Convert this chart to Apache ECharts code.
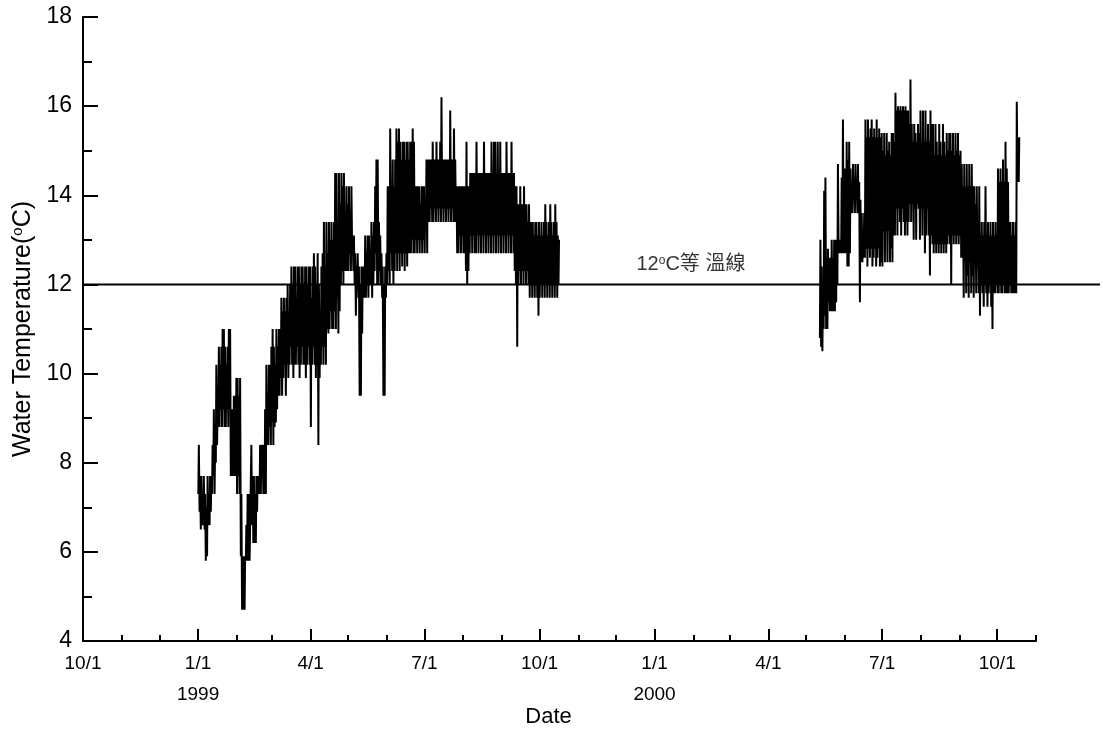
<!DOCTYPE html>
<html>
<head>
<meta charset="utf-8">
<script src="https://cdn.jsdelivr.net/npm/echarts@6/dist/echarts.min.js"></script>
<style>
  html, body { margin: 0; padding: 0; background: #fff; }
  #chart { width: 1103px; height: 736px; }
</style>
</head>
<body>
<div id="chart"></div>
<script>
// Fonts
const SANS = "'Liberation Sans Narrow','Arial Narrow','Liberation Sans',Arial,sans-serif";
const MIXED = "'Liberation Sans Narrow','Arial Narrow','Liberation Sans','Noto Sans CJK TC','Noto Sans CJK SC',sans-serif";

// Axis range and ticks
const axisStart = '1998-10-01';
const axisEnd = '2000-11-01';
const quarterTicks = ['1998-10-01', '1999-01-01', '1999-04-01', '1999-07-01', '1999-10-01',
                      '2000-01-01', '2000-04-01', '2000-07-01', '2000-10-01'];
const quarterLabels = ['10/1', '1/1\n1999', '4/1', '7/1', '10/1', '1/1\n2000', '4/1', '7/1', '10/1'];
const monthTicks = ['1998-10-01', '1998-11-01', '1998-12-01', '1999-01-01', '1999-02-01', '1999-03-01',
                    '1999-04-01', '1999-05-01', '1999-06-01', '1999-07-01', '1999-08-01', '1999-09-01',
                    '1999-10-01', '1999-11-01', '1999-12-01', '2000-01-01', '2000-02-01', '2000-03-01',
                    '2000-04-01', '2000-05-01', '2000-06-01', '2000-07-01', '2000-08-01', '2000-09-01',
                    '2000-10-01', '2000-11-01'];
const tempMin = 4;
const tempMax = 18;
const tempStep = 2;

// 12 °C isotherm
const isotherm = 12;
const isothermLineEnd = '2000-12-22';
const isothermLabelDate = '2000-01-30';

// Daily [max, min] water temperature (°C), first deployment
const deploy1Start = '1999-01-01';
const deploy1Daily = [
  [8.4,7.3],[7.7,6.9],[7.7,6.5],[7.2,6.6],[7.7,6.6],[7.3,6.5],[7.0,5.8],[7.7,5.9],[7.2,6.6],[7.7,6.6],
  [7.7,6.9],[8.4,7.3],[9.2,7.7],[8.4,7.3],[10.2,8.0],[9.2,8.4],[10.6,8.8],[10.2,8.8],[10.6,9.2],[11.0,8.8],
  [11.0,9.2],[10.6,8.8],[10.2,8.8],[10.6,9.2],[11.0,8.8],[11.0,9.2],[9.2,7.7],[9.2,7.7],[9.5,7.7],[9.5,7.7],
  [9.9,7.7],[9.9,7.3],[9.5,7.7],[9.9,7.3],[7.3,5.9],[5.9,4.7],[5.9,4.7],[5.9,4.7],[6.6,5.8],[7.3,5.8],
  [7.3,5.8],[6.6,5.8],[8.4,6.6],[7.7,6.6],[7.7,6.2],[7.3,6.2],[7.7,6.2],[7.7,6.9],[7.7,7.3],[8.4,7.3],
  [8.4,7.3],[8.4,7.7],[8.4,7.3],[9.2,7.3],[10.2,7.3],[9.5,8.4],[10.2,8.4],[10.2,8.8],[10.6,8.4],[11.0,8.9],
  [10.6,8.4],[10.2,8.8],[11.0,8.9],[10.6,9.2],[11.0,9.5],[11.0,9.5],[11.7,9.9],[11.4,9.5],[11.7,9.9],[11.4,10.2],
  [11.7,9.5],[12.0,10.2],[11.4,9.9],[12.0,10.2],[12.4,10.6],[12.0,10.2],[12.4,9.9],[12.4,10.2],[11.7,10.2],[12.4,10.6],
  [12.4,10.2],[12.0,9.9],[12.4,10.2],[12.4,10.6],[12.0,10.2],[12.4,10.2],[12.4,9.9],[12.0,10.2],[12.4,10.6],[12.4,10.2],
  [11.7,8.8],[12.4,10.2],[12.7,10.6],[12.4,10.2],[12.0,9.9],[12.7,10.2],[12.0,8.4],[11.4,9.9],[12.4,10.2],[12.7,10.6],
  [13.4,10.2],[12.4,10.6],[13.4,10.2],[12.7,11.0],[13.4,10.9],[13.0,11.0],[13.4,11.4],[13.0,11.0],[13.4,11.0],[14.5,11.4],
  [14.5,11.0],[13.4,11.7],[14.5,10.9],[13.8,11.4],[14.5,12.0],[14.2,12.3],[14.5,12.0],[13.4,12.3],[14.2,12.3],[13.8,12.3],
  [14.2,12.3],[13.4,12.7],[14.2,12.3],[13.1,12.7],[13.1,12.3],[12.7,12.0],[12.4,11.3],[12.7,12.0],[12.4,11.7],[12.0,9.5],
  [12.4,9.5],[12.4,10.9],[12.4,11.7],[13.1,11.7],[12.7,11.7],[13.1,12.0],[13.1,11.7],[12.7,12.0],[13.4,12.0],[13.1,11.7],
  [13.4,12.0],[14.2,12.3],[14.8,12.7],[14.8,12.0],[13.4,12.0],[13.1,12.3],[12.7,12.0],[12.4,11.7],[12.0,9.5],[12.4,9.5],
  [12.7,11.7],[14.2,12.0],[14.2,12.3],[15.5,12.0],[14.2,12.7],[14.8,12.3],[14.2,12.0],[14.8,12.3],[15.5,12.7],[15.2,12.3],
  [15.5,12.7],[15.2,12.3],[14.8,12.7],[15.2,12.4],[15.2,12.7],[14.8,12.3],[15.2,12.7],[15.2,12.4],[14.8,12.7],[15.2,12.7],
  [15.2,12.7],[15.5,13.0],[15.2,12.7],[14.2,12.7],[14.2,13.0],[14.2,12.7],[14.2,13.0],[13.8,12.7],[14.2,13.0],[14.2,12.7],
  [14.2,13.0],[13.8,12.7],[14.8,13.4],[14.8,12.7],[14.8,13.4],[14.8,13.4],[14.8,13.7],[15.2,13.4],[14.8,13.4],[14.8,13.7],
  [15.2,13.4],[14.8,13.7],[14.8,13.4],[15.2,13.7],[16.2,13.4],[14.8,13.7],[14.8,13.4],[14.8,13.7],[14.8,13.4],[14.8,13.7],
  [14.8,13.4],[15.9,13.7],[14.8,13.4],[14.8,13.7],[15.5,13.4],[14.8,13.4],[14.2,13.4],[14.2,12.7],[14.2,12.7],[14.2,13.1],
  [14.2,12.7],[14.2,13.1],[14.2,12.7],[14.2,12.7],[15.2,12.3],[14.2,12.0],[14.2,12.3],[14.5,12.7],[14.5,13.1],[14.5,12.7],
  [14.5,13.1],[14.5,12.7],[15.2,12.7],[14.5,13.1],[14.5,12.7],[14.5,13.1],[14.5,12.7],[14.5,13.1],[15.2,12.7],[14.5,13.1],
  [14.5,12.7],[14.5,13.1],[14.5,12.7],[14.5,13.1],[15.2,12.7],[14.5,13.1],[15.2,12.7],[15.2,13.1],[14.5,12.7],[15.2,13.1],
  [14.5,12.7],[15.2,13.1],[14.5,12.7],[14.5,13.1],[14.5,12.7],[14.5,13.1],[15.2,12.7],[14.5,13.1],[14.5,12.7],[14.5,13.1],
  [15.2,12.7],[14.5,13.1],[14.5,12.7],[14.2,12.3],[14.2,12.0],[13.8,10.6],[13.8,12.0],[14.2,12.3],[13.8,12.0],[13.8,12.3],
  [14.2,12.0],[13.8,12.3],[13.8,12.0],[13.4,12.3],[13.8,12.0],[13.4,11.7],[13.4,12.0],[13.4,11.7],[13.1,12.0],[13.4,11.7],
  [13.4,12.0],[13.1,11.7],[13.4,11.3],[13.1,11.7],[13.4,12.0],[13.1,11.7],[13.4,12.0],[13.8,11.7],[13.4,12.0],[13.1,11.7],
  [13.4,12.0],[13.8,11.7],[13.4,12.0],[13.1,11.7],[13.4,12.0],[13.8,11.7],[13.4,12.0],[13.1,11.7],[13.0,12.0]
];

// Daily [max, min] water temperature (°C), second deployment
const deploy2Start = '2000-05-12';
const deploy2Daily = [
  [13.0,10.8],[12.4,10.6],[12.0,10.5],[14.1,11.0],[14.4,11.3],[12.6,11.0],[12.8,11.0],[12.6,11.6],[12.6,11.4],[13.0,11.4],
  [12.6,11.4],[13.0,11.4],[13.0,11.4],[13.0,11.6],[14.7,12.0],[13.0,12.7],[13.0,12.7],[14.4,12.7],[15.7,12.7],[14.6,12.7],
  [14.6,12.7],[15.2,12.7],[14.8,12.4],[15.2,12.4],[14.6,12.7],[14.3,13.6],[14.7,13.6],[14.3,13.9],[14.7,13.6],[14.3,13.9],
  [14.7,13.6],[14.3,13.6],[13.9,11.6],[13.6,12.5],[13.0,12.5],[13.6,12.6],[15.7,12.6],[15.3,12.8],[15.7,12.4],[15.3,12.8],
  [15.5,12.6],[15.7,12.8],[15.3,12.4],[15.5,12.6],[15.3,12.8],[15.7,12.4],[15.3,12.6],[15.5,12.8],[15.3,12.4],[15.4,12.5],
  [15.0,12.4],[15.4,13.2],[14.9,12.5],[15.4,13.2],[15.0,12.5],[15.2,13.2],[14.9,12.5],[15.4,12.8],[15.4,12.5],[15.2,13.1],
  [16.3,13.1],[15.9,13.7],[16.0,13.1],[15.9,13.7],[16.0,13.4],[15.9,13.1],[16.0,13.7],[15.9,13.4],[16.0,13.1],[15.9,13.4],
  [15.9,13.1],[15.6,13.4],[16.6,13.8],[15.6,13.4],[15.2,13.8],[15.6,13.0],[15.4,13.7],[15.2,13.0],[15.6,13.8],[15.4,13.7],
  [15.9,13.0],[15.2,13.7],[15.9,13.1],[15.2,13.7],[15.9,12.7],[15.2,13.1],[15.6,13.7],[15.2,13.1],[15.9,12.2],[15.6,13.1],
  [15.6,12.9],[14.9,12.7],[15.6,12.9],[15.2,12.7],[14.9,12.9],[15.6,12.7],[15.2,12.9],[14.9,12.7],[15.6,12.9],[15.2,12.7],
  [14.9,12.9],[15.4,12.7],[15.0,12.9],[15.4,13.1],[15.4,12.9],[15.0,12.0],[15.4,13.1],[14.9,12.9],[15.4,13.1],[15.0,12.9],
  [15.4,13.1],[14.9,12.9],[15.0,13.1],[14.7,12.6],[14.2,12.6],[14.7,11.7],[14.2,12.5],[14.7,11.8],[14.2,12.2],[14.7,11.7],
  [14.2,12.5],[14.7,11.8],[14.2,12.2],[14.2,11.7],[13.8,12.4],[14.2,11.8],[13.4,12.4],[14.2,11.8],[13.1,11.3],[13.4,12.0],
  [13.1,11.8],[13.4,11.5],[14.2,12.0],[13.1,11.8],[13.4,11.5],[13.1,11.8],[13.4,12.0],[13.1,11.5],[13.4,11.0],[13.1,11.8],
  [13.4,11.8],[13.1,12.0],[14.6,11.8],[14.3,11.8],[14.6,12.0],[14.3,11.8],[14.8,11.8],[14.3,12.0],[15.2,11.8],[14.6,11.8],
  [14.3,11.8],[13.4,11.8],[13.4,12.0],[13.1,11.8],[13.4,11.8],[13.1,11.8],[13.4,11.8],[16.1,11.8],[15.3,14.3],[15.3,14.3]
];

// Reading times within a day: afternoon maximum, early-morning minimum
const HOUR = 3600000;
const DAY = 24 * HOUR;
const maxHour = 15;
const minHour = 5;

function ts(s) {
  const p = s.split('-').map(Number);
  return Date.UTC(p[0], p[1] - 1, p[2]);
}
function dailyReadings(start, daily) {
  const t0 = ts(start);
  const out = [];
  daily.forEach(function (d, i) {
    const day = t0 + i * DAY;
    out.push([day + minHour * HOUR, d[1]]);
    out.push([day + maxHour * HOUR, d[0]]);
  });
  return out;
}

const quarterTs = quarterTicks.map(ts);
const monthTs = monthTicks.map(ts);
const axisColor = '#000';

const chart = echarts.init(document.getElementById('chart'), null, { renderer: 'canvas' });

const option = {
  animation: false,
  backgroundColor: '#fff',
  grid: [
    { left: 83, right: 67, top: 17, bottom: 95, containLabel: false, outerBoundsMode: 'none' },
    { left: 83, right: 3, top: 17, bottom: 95, containLabel: false, outerBoundsMode: 'none' }
  ],
  xAxis: [
    {
      type: 'value', gridIndex: 0,
      min: ts(axisStart), max: ts(axisEnd),
      axisLine: { show: true, lineStyle: { color: axisColor, width: 2 } },
      axisTick: { show: true, inside: true, length: 12, customValues: quarterTs,
                  lineStyle: { color: axisColor, width: 2 } },
      axisLabel: {
        customValues: quarterTs,
        formatter: function (value) {
          const i = quarterTs.indexOf(value);
          return i >= 0 ? quarterLabels[i] : '';
        },
        color: '#000', fontSize: 19, fontFamily: SANS, margin: 7, lineHeight: 31,
        showMinLabel: true, showMaxLabel: true, hideOverlap: false
      },
      splitLine: { show: false },
      name: 'Date', nameLocation: 'middle', nameGap: 65, nameMoveOverlap: false,
      nameTextStyle: { color: '#000', fontSize: 22, fontFamily: SANS, padding: [0, 22, 0, 0] }
    },
    {
      type: 'value', gridIndex: 0, position: 'bottom',
      min: ts(axisStart), max: ts(axisEnd),
      axisLine: { show: false },
      axisTick: { show: true, inside: true, length: 6, customValues: monthTs,
                  lineStyle: { color: axisColor, width: 2 } },
      axisLabel: { show: false },
      splitLine: { show: false }
    },
    {
      type: 'value', gridIndex: 1, show: false,
      min: ts(axisStart), max: ts(isothermLineEnd)
    }
  ],
  yAxis: [
    {
      type: 'value', gridIndex: 0,
      min: tempMin, max: tempMax, interval: tempStep,
      axisLine: { show: true, lineStyle: { color: axisColor, width: 2 } },
      axisTick: { show: true, inside: true, length: 15, lineStyle: { color: axisColor, width: 2 } },
      minorTick: { show: true, splitNumber: 2, length: 9, lineStyle: { color: axisColor, width: 2 } },
      axisLabel: { color: '#000', fontSize: 23, fontFamily: SANS, margin: 11 },
      splitLine: { show: false },
      name: 'Water Temperature({sup|o}C)',
      nameLocation: 'middle', nameGap: 40, nameRotate: 90,
      nameTextStyle: {
        color: '#000', fontSize: 25, fontFamily: SANS,
        rich: { sup: { fontSize: 15, fontFamily: SANS, color: '#000', verticalAlign: 'top' } }
      }
    },
    {
      type: 'value', gridIndex: 1, show: false,
      min: tempMin, max: tempMax
    }
  ],
  series: [
    {
      name: 'isotherm', type: 'line', xAxisIndex: 2, yAxisIndex: 1,
      data: [[ts(axisStart), isotherm], [ts(isothermLineEnd), isotherm]],
      symbol: 'none', silent: true,
      lineStyle: { color: '#000', width: 2 }
    },
    {
      name: 'isotherm label', type: 'scatter', xAxisIndex: 2, yAxisIndex: 1,
      data: [[ts(isothermLabelDate), isotherm]],
      symbolSize: 0, silent: true,
      label: {
        show: true, position: 'top', distance: 10,
        formatter: '12{sup|o}C等 溫線',
        color: '#000', fontSize: 20, fontFamily: MIXED,
        rich: { sup: { fontSize: 12, fontFamily: SANS, color: '#000', verticalAlign: 'top' } }
      }
    },
    {
      name: 'deployment 1', type: 'line', xAxisIndex: 0, yAxisIndex: 0,
      data: dailyReadings(deploy1Start, deploy1Daily),
      symbol: 'none', silent: true,
      lineStyle: { color: '#000', width: 2 }
    },
    {
      name: 'deployment 2', type: 'line', xAxisIndex: 0, yAxisIndex: 0,
      data: dailyReadings(deploy2Start, deploy2Daily),
      symbol: 'none', silent: true,
      lineStyle: { color: '#000', width: 2 }
    }
  ]
};

chart.setOption(option);
</script>
</body>
</html>
